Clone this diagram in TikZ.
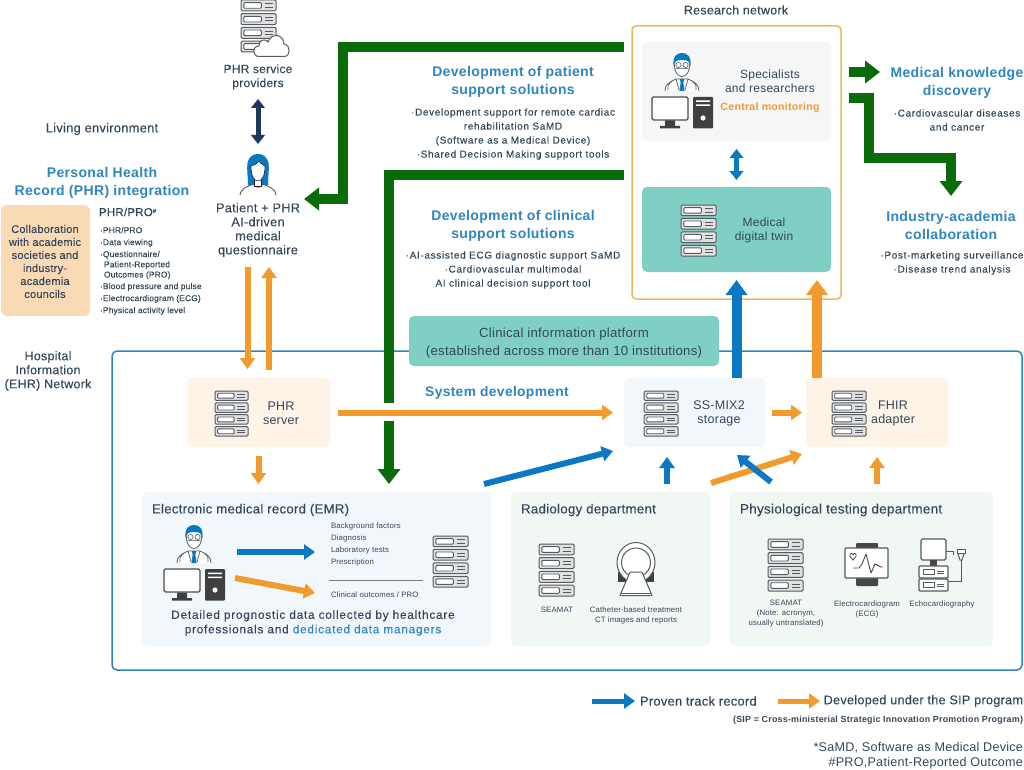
\documentclass[tikz,border=0pt]{standalone}
\usepackage{fontspec}
\setmainfont{Liberation Sans}[LetterSpace=2]
\newfontfamily\medf{Liberation Sans}[LetterSpace=2,FakeBold=0.12]
\newfontfamily\subf{Liberation Sans}[LetterSpace=6.5,FakeBold=0.12]
\newfontfamily\boldf{Liberation Sans Bold}[LetterSpace=2.5]
\usetikzlibrary{arrows.meta,calc}
\definecolor{ink}{HTML}{34475A}
\definecolor{head}{HTML}{2E86C1}
\definecolor{blu}{HTML}{0B78C4}
\definecolor{org}{HTML}{F39A2D}
\definecolor{grn}{HTML}{0A6B0A}
\definecolor{nav}{HTML}{1B3A5C}
\definecolor{teal}{HTML}{7FCFC5}
\definecolor{peach}{HTML}{FDF3E7}
\definecolor{skyp}{HTML}{F2F7FC}
\definecolor{mint}{HTML}{F1F7F3}
\definecolor{iconc}{HTML}{555B60}
\definecolor{collabc}{HTML}{FAD9B5}
\tikzset{
 x=1pt,y=-1pt,
 panel/.style={rounded corners=5pt,inner sep=0pt,outer sep=0pt,draw=none},
 txt/.style={inner sep=0pt,outer sep=0pt,text=ink,align=center},
 lt/.style={txt,font=\fontsize{#1}{14}\selectfont},
 bt/.style={inner sep=0pt,outer sep=0pt,text=ink,align=center,font=\medf\fontsize{#1}{14}\selectfont},
 hd/.style={inner sep=0pt,outer sep=0pt,text=head,align=center,font=\boldf\fontsize{14}{18}\selectfont},
 sub/.style={inner sep=0pt,outer sep=0pt,text=ink,align=center,font=\subf\fontsize{10}{14}\selectfont},
 bigG/.style={draw=grn,line width=10pt,-{Triangle[length=15pt,width=22pt]}},
 bigGn/.style={draw=grn,line width=10pt},
 bigB/.style={draw=blu,line width=10pt,-{Triangle[length=15pt,width=21pt]}},
 bigO/.style={draw=org,line width=10pt,-{Triangle[length=15pt,width=21pt]}},
 aO/.style={draw=org,line width=6pt,-{Triangle[length=11pt,width=15pt]}},
 aB/.style={draw=blu,line width=6pt,-{Triangle[length=11pt,width=15pt]}},
}
% server icon: left, top, width, height
\newcommand{\srv}[4]{%
 \foreach \i in {0,1,2,3}{%
  \pgfmathsetmacro{\rh}{#4*0.21}%
  \pgfmathsetmacro{\ry}{#2+\i*(#4-\rh)/3}%
  \draw[draw=iconc,fill=white!88!black,line width=1pt,rounded corners=1.2pt] (#1,\ry) rectangle ++(#3,\rh);
  \draw[draw=iconc,fill=white,line width=.9pt,rounded corners=1pt] ($(#1,\ry)+(0.08*#3,0.24*\rh)$) rectangle ++(0.5*#3,0.52*\rh);
  \draw[draw=iconc,line width=.9pt] ($(#1,\ry)+(0.68*#3,0.36*\rh)$) -- ++(0.24*#3,0);
  \draw[draw=iconc,line width=.9pt] ($(#1,\ry)+(0.68*#3,0.66*\rh)$) -- ++(0.24*#3,0);
 }}
\tikzset{
 docpc/.pic={
  \draw[iconc,fill=white,line width=.8pt] (-17,38) .. controls (-17,31) and (-12,29) .. (-6,26) -- (6,26) .. controls (12,29) and (17,31) .. (17,38);
  \fill[blu] (-2,26) -- (2,26) -- (1.4,30) -- (2.6,38) -- (-2.6,38) -- (-1.4,30) -- cycle;
  \draw[iconc,line width=.7pt] (-6,26) -- (-3,37) (6,26) -- (3,37);
  \draw[iconc,line width=.7pt] (-10,28) .. controls (-14,31) and (-15,34) .. (-14,37) (10,28) .. controls (14,31) and (15,34) .. (14,37);
  \draw[iconc,fill=white,line width=.8pt] (0,13) ellipse [x radius=7.5,y radius=10.5];
  \fill[blu] (-8.5,13) .. controls (-9.5,3) and (-5,0) .. (0,0) .. controls (5,0) and (9.5,3) .. (8.5,13) -- (7,8.5) .. controls (3,6.5) and (-3,6.5) .. (-7,8.5) -- cycle;
  \draw[iconc,line width=.6pt] (-3.5,12) circle (2.6) (3.5,12) circle (2.6);
  \draw[iconc,line width=.6pt] (-7,16) .. controls (-3,15) and (3,15) .. (7,16);
  \draw[draw=black!70,fill=white,line width=1.3pt,rounded corners=1.5pt] (-30,44) rectangle (6,67);
  \fill[black!75] (-17,67.5) rectangle (-7,73) (-22,73) rectangle (-2,75.5);
  \fill[black!75,rounded corners=1pt] (11,44) rectangle (31,75.5);
  \fill[white] (14,47.5) rectangle (28,49) (14,51.5) rectangle (28,53);
  \fill[white] (21,65) circle (2.6);
 },
 woman/.pic={
  \fill[blu] (-10,31) .. controls (-10,22) and (-11.5,16) .. (-10.5,9) .. controls (-9,2) and (-4,0) .. (0,0) .. controls (4,0) and (9,2) .. (10.5,9) .. controls (11.5,16) and (10,22) .. (10,31) -- cycle;
  \draw[nav!60!black,fill=white,line width=.6pt] (-3.5,23) rectangle (3.5,32);
  \draw[nav!60!black,fill=white,line width=.6pt] (-7,12) .. controls (-3,11) and (0,9) .. (1,7) .. controls (3,10) and (5,11) .. (7,12) .. controls (7,22) and (4,27) .. (0,27) .. controls (-4,27) and (-7,22) .. (-7,12) -- cycle;
  \draw[iconc,line width=.9pt] (-18,41) .. controls (-17,34) and (-11,33) .. (-5,30);
  \draw[iconc,line width=.9pt] (18,41) .. controls (17,34) and (11,33) .. (5,30);
  \draw[red!50!black,line width=.6pt] (-4,31) .. controls (-2,34) and (2,34) .. (4,31);
 }
}
\begin{document}
\begin{tikzpicture}
\useasboundingbox (0,0) rectangle (1024,770);
\fill[white] (0,0) rectangle (1024,770);
% containers
\node[panel,draw=head,line width=1.5pt,fill=white,minimum width=910pt,minimum height=319pt] (hospital) at (567,510.5) {};
\node[panel,rounded corners=4pt,draw=org!75!white,line width=1.5pt,fill=white,minimum width=209pt,minimum height=273pt] (research) at (736.5,162.5) {};
\node[panel,fill=black!3.5,minimum width=189pt,minimum height=99pt] (specbox) at (736.5,91.5) {};
\node[panel,fill=teal,minimum width=189pt,minimum height=85pt] (twin) at (736.5,229.5) {};
\node[panel,fill=teal,minimum width=310pt,minimum height=50pt] (platform) at (564,341) {};
\node[panel,fill=peach,minimum width=143pt,minimum height=69pt] (phrsrv) at (258.5,412.5) {};
\node[panel,fill=skyp,minimum width=141pt,minimum height=69pt] (ssmix) at (694.5,412.5) {};
\node[panel,fill=peach,minimum width=142pt,minimum height=69pt] (fhir) at (877,412.5) {};
\node[panel,fill=skyp,minimum width=349pt,minimum height=154pt] (emr) at (316.5,569) {};
\node[panel,fill=mint,minimum width=199pt,minimum height=154pt] (rad) at (610.5,569) {};
\node[panel,fill=mint,minimum width=263pt,minimum height=154pt] (phy) at (861.5,569) {};
\node[panel,rounded corners=6pt,fill=collabc,minimum width=89pt,minimum height=111pt] (collab) at (45.5,260.5) {};
% coordinates
\coordinate (g1s) at (624,47); \coordinate (g1m) at (343,47); \coordinate (g1n) at (343,199); \coordinate (g1e) at (304,199);
\coordinate (g2s) at (624,175); \coordinate (g2m) at (389,175); \coordinate (g2a) at (389,403); \coordinate (g2b) at (389,421); \coordinate (g2e) at (389,484);
\coordinate (g3s) at (849,72); \coordinate (g3e) at (880,72);
\coordinate (g4s) at (849,98); \coordinate (g4a) at (869,98); \coordinate (g4b) at (869,158); \coordinate (g4c) at (951,158); \coordinate (g4e) at (951,196);
\coordinate (d1) at (258,99); \coordinate (d2) at (258,144);
\coordinate (o1a) at (247.5,267); \coordinate (o1b) at (247.5,369);
\coordinate (o2a) at (269,370); \coordinate (o2b) at (269,267);
\coordinate (o3a) at (711,483); \coordinate (o3b) at (802,454);
\coordinate (b1a) at (484,484); \coordinate (b1b) at (613,451);
\coordinate (b2a) at (771,482); \coordinate (b2b) at (737,455);
\coordinate (ea) at (237,552); \coordinate (eb) at (315,552); \coordinate (ec) at (235,578); \coordinate (ed) at (315,593);
\coordinate (la) at (592,701); \coordinate (lb) at (635,701); \coordinate (lc) at (778,701); \coordinate (ld) at (820,701);
\coordinate (tb) at (736.5,280); \coordinate (sb) at (736.5,378);
\coordinate (to) at (817,280); \coordinate (so) at (817,378);
\coordinate (u1) at (667,484); \coordinate (u2) at (667,457);
\coordinate (u3) at (877,484); \coordinate (u4) at (877,457);
\coordinate (p1) at (258.5,456); \coordinate (p2) at (258.5,484);
% green connectors
\draw[bigG] (g1s) -- (g1m) -- (g1n) -- (g1e);
\draw[bigGn] (g2s) -- (g2m) -- (g2a);
\draw[bigG] (g2b) -- (g2e);
\draw[bigG] (g3s) -- (g3e);
\draw[bigG] (g4s) -- (g4a) -- (g4b) -- (g4c) -- (g4e);
% navy and blue double
\draw[nav,line width=5pt,{Triangle[length=9pt,width=13.5pt]}-{Triangle[length=9pt,width=13.5pt]}] (d1) -- (d2);
\draw[blu,line width=5pt,{Triangle[length=9pt,width=13.5pt]}-{Triangle[length=9pt,width=13.5pt]},shorten <=8pt,shorten >=7pt] (specbox.south) -- (twin.north);
% orange/blue arrows
\draw[aO] (o1a) -- (o1b);
\draw[aO] (o2a) -- (o2b);
\draw[aO] (p1) -- (p2);
\draw[aO,shorten <=8pt,shorten >=11pt] (phrsrv.east) -- (ssmix.west);
\draw[aO,shorten <=7pt,shorten >=4pt] (ssmix.east) -- (fhir.west);
\draw[aO] (u3) -- (u4);
\draw[bigB] (sb) -- (tb);
\draw[bigO] (so) -- (to);
\draw[aB] (b1a) -- (b1b);
\draw[aB] (u1) -- (u2);
\draw[aO] (o3a) -- (o3b);
\draw[aB] (b2a) -- (b2b);
\draw[aB] (ea) -- (eb);
\draw[aO] (ec) -- (ed);
\draw[iconc!80,line width=1pt] (329,580) -- (423,580);
\draw[aB,line width=5pt] (la) -- (lb);
\draw[aO,line width=5pt] (lc) -- (ld);
% icons
\srv{241}{0}{35}{52}
\draw[iconc,fill=white,line width=1pt] (259,56.5) .. controls (252,56.5) and (252,46) .. (259,46) .. controls (258,40) and (266,38) .. (268,42) .. controls (271,33) and (283,33) .. (284,44) .. controls (291,45) and (291,56.5) .. (284,56.5) -- cycle;
\pic at (258,154) {woman};
\pic at (682,53) {docpc};
\pic at (194,525) {docpc};
\srv{681}{205}{35}{51}
\srv{215}{391}{33}{45}
\srv{644}{391}{34}{45}
\srv{832}{391}{34}{45}
\srv{433}{536}{35}{51}
\srv{539}{544}{35}{52}
\srv{768}{539}{35}{52}
% CT
\fill[black!75] (618,572) rectangle (654,582);
\draw[iconc,fill=white,line width=1pt] (636,562.5) ellipse [x radius=19,y radius=20];
\draw[iconc,fill=white,line width=1pt] (636,562.5) circle (14.5);
\draw[iconc,fill=white,line width=1pt,line join=round] (630,572) -- (642,572) -- (652,595.5) -- (620,595.5) -- cycle;
\draw[iconc,line width=1pt] (621,593) -- (651,593);
% ECG
\fill[black!72,rounded corners=1pt] (856,543) rectangle (878,549) (856,577) rectangle (878,586);
\draw[iconc,fill=white,line width=1.2pt,rounded corners=1pt] (845,548) rectangle (888,578);
\draw[black!70,line width=.9pt,line join=round] (853,568) -- (859,568) -- (862,564) -- (866,554) -- (871,573) -- (875,564) -- (881,567) -- (883,567);
\draw[black!70,line width=.8pt] (853,560) -- (850,556.5) .. controls (849,553) and (852.5,552.5) .. (853,555) .. controls (853.5,552.5) and (857,553) .. (856,556.5) -- cycle;
% Echo
\draw[iconc,fill=white,line width=1.1pt,rounded corners=1.5pt] (921,539) rectangle (946,560);
\fill[black!72] (930,560) rectangle (937,565.5);
\draw[iconc,fill=white,line width=1.1pt,rounded corners=1pt] (919,566) rectangle (948,578);
\draw[iconc,fill=white,line width=1.1pt,rounded corners=1pt] (919,579) rectangle (948,591);
\draw[iconc,fill=white,line width=.8pt] (923,569.5) rectangle (934,574.5) (923,582.5) rectangle (934,587.5);
\draw[iconc,line width=.8pt] (937,571) -- (944,571) (937,573.5) -- (944,573.5) (937,584) -- (944,584) (937,586.5) -- (944,586.5);
\draw[iconc,line width=1pt] (946,551) -- (953,551) -- (953,555);
\draw[iconc,line width=1pt] (961,560) -- (961,581) -- (948,581);
\draw[iconc,fill=white,line width=1pt] (957,549.5) rectangle (965,553.5);
\draw[iconc,fill=white,line width=1pt] (958,553.5) -- (964,553.5) -- (962,560) -- (960,560) -- cycle;
% text
\node[bt=12] (phrsp) at (258,77) {PHR service\\providers};
\node[bt=12.9] (living) at (102,129) {Living environment};
\node[hd] (phrint) at (102,182.5) {Personal Health\\Record (PHR) integration};
\node[bt=11,font=\medf\fontsize{11}{13}\selectfont] (collabt) at (45,261.5) {Collaboration\\with academic\\societies and\\industry-\\academia\\councils};
\node[bt=11.5,anchor=west] (phrpro) at (99,212) {PHR/PRO\raisebox{3pt}{\fontsize{6}{6}\selectfont\#}};
\node[lt=8.4,anchor=north west,align=left,font=\medf\fontsize{8.4}{10.2}\selectfont] (phrl1) at (100,227) {·PHR/PRO};
\node[lt=8.4,anchor=north west,align=left,font=\medf\fontsize{8.4}{10.2}\selectfont] (phrl2) at (100,239) {·Data viewing};
\node[lt=8.4,anchor=north west,align=left,font=\medf\fontsize{8.4}{10.2}\selectfont] (phrl3) at (100,251) {·Questionnaire/\\\hspace*{4pt}Patient-Reported\\\hspace*{4pt}Outcomes (PRO)};
\node[lt=8.4,anchor=north west,align=left,font=\medf\fontsize{8.4}{10.2}\selectfont] (phrl4) at (100,283) {·Blood pressure and pulse};
\node[lt=8.4,anchor=north west,align=left,font=\medf\fontsize{8.4}{10.2}\selectfont] (phrl5) at (100,295) {·Electrocardiogram (ECG)};
\node[lt=8.4,anchor=north west,align=left,font=\medf\fontsize{8.4}{10.2}\selectfont] (phrl6) at (100,307) {·Physical activity level};
\node[bt=12.8] (patient) at (258,230) {Patient + PHR\\AI-driven\\medical\\questionnaire};
\node[hd] (devp) at (513,81.5) {Development of patient\\support solutions};
\node[sub] (devpl) at (513,134) {·Development support for remote cardiac\\rehabilitation SaMD\\(Software as a Medical Device)\\·Shared Decision Making support tools};
\node[hd] (devc) at (513,225.5) {Development of clinical\\support solutions};
\node[sub] (devcl) at (513,270) {·AI-assisted ECG diagnostic support SaMD\\·Cardiovascular multimodal\\AI clinical decision support tool};
\node[bt=12.5] (resn) at (736,10) {Research network};
\node[lt=12] (spec) at (770,81.5) {Specialists\\and researchers};
\node[lt=11,text=org,font=\boldf\fontsize{10.6}{14}\selectfont] (central) at (770,108) {Central monitoring};
\node[lt=12] (twint) at (764,230.5) {Medical\\digital twin};
\node[hd] (mkd) at (957,82.5) {Medical knowledge\\discovery};
\node[sub] (mkdl) at (957,120) {·Cardiovascular diseases\\and cancer};
\node[hd] (iac) at (951,225.5) {Industry-academia\\collaboration};
\node[sub] (iacl) at (952,263) {·Post-marketing surveillance\\·Disease trend analysis};
\node[lt=13.2,font=\fontsize{13.2}{18}\selectfont] (plat) at (564,343) {Clinical information platform\\(established across more than 10 institutions)};
\node[bt=12.5] (hie) at (48,371) {Hospital\\Information\\(EHR) Network};
\node[lt=12.5] (phrt) at (281,413.5) {PHR\\server};
\node[lt=12.5] (sst) at (719,413.5) {SS-MIX2\\storage};
\node[lt=12.5] (fht) at (893,413.5) {FHIR\\adapter};
\node[hd,font=\boldf\fontsize{13.8}{16}\selectfont] (sysd) at (497,393) {System development};
\node[bt=13.2,anchor=west] (emrt) at (152,510) {Electronic medical record (EMR)};
\node[lt=8,anchor=north west,align=left,font=\fontsize{7.8}{12}\selectfont] (emrl) at (331,523) {Background factors\\Diagnosis\\Laboratory tests\\Prescription};
\node[lt=8,anchor=west,font=\fontsize{7.8}{12}\selectfont] (emrc) at (331,595) {Clinical outcomes / PRO};
\node[sub,font=\subf\fontsize{11.8}{14.5}\selectfont] (emrd) at (313,623) {Detailed prognostic data collected by healthcare\\professionals and \textcolor{head}{dedicated data managers}};
\node[bt=13.3,anchor=west] (radt) at (521,510) {Radiology department};
\node[bt=13.5,anchor=west] (phyt) at (740,510) {Physiological testing department};
\node[lt=8,font=\fontsize{7.8}{10}\selectfont] (seam1) at (557,610) {SEAMAT};
\node[lt=8,font=\fontsize{7.8}{10}\selectfont] (cath) at (636,615) {Catheter-based treatment\\CT images and reports};
\node[lt=8,font=\fontsize{7.8}{10}\selectfont] (seam2) at (786,614) {SEAMAT\\(Note: acronym,\\usually untranslated)};
\node[lt=8,font=\fontsize{7.8}{10}\selectfont] (ecgt) at (867,609) {Electrocardiogram\\(ECG)};
\node[lt=8,font=\fontsize{7.8}{10}\selectfont] (echot) at (942,604) {Echocardiography};
\node[bt=12.9,anchor=west] (lega) at (640,701) {Proven track record};
\node[bt=12.7,anchor=east] (legb) at (1023,701) {Developed under the SIP program};
\node[lt=8,anchor=east,font=\boldf\fontsize{8.9}{10}\selectfont] (sipn) at (1023,720) {(SIP = Cross-ministerial Strategic Innovation Promotion Program)};
\node[lt=12.6,anchor=east] (fn1) at (1023,748) {*SaMD, Software as Medical Device};
\node[lt=12.6,anchor=east] (fn2) at (1023,763) {\#PRO,Patient-Reported Outcome};
\end{tikzpicture}
\end{document}
